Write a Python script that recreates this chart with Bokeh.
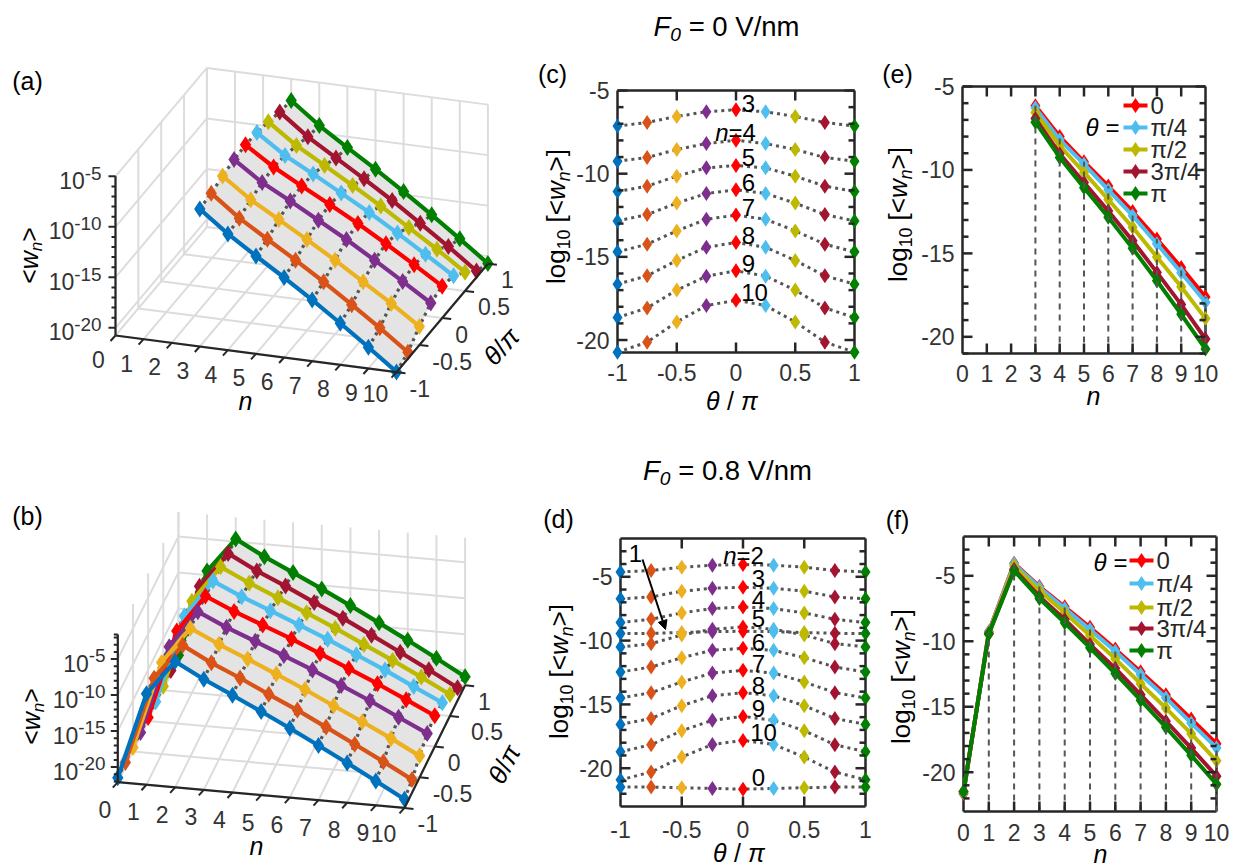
import math
from bokeh.plotting import figure
from bokeh.models import Range1d, Label, LinearAxis, FixedTicker, Arrow, NormalHead
from bokeh.embed import file_html
from bokeh.resources import INLINE

FONT = "Liberation Sans"
INK = "#262626"
DOT = "#555555"
GRID = "#dcdcdc"
SURF = "#e4e4e4"
BLACK = "#000000"
TICKC = "#333333"
W, H = 1237, 867

THETA = [-1, -0.75, -0.5, -0.25, 0, 0.25, 0.5, 0.75, 1]
COLORS = ["#0072BD", "#D95319", "#EDB120", "#7E2F8E", "#FF0000",
          "#4DBEEE", "#BDB800", "#A2142F", "#007F00"]

# log10<w_n> at F0 = 0 V/nm (rows n = 3..10)
F0_N = [3, 4, 5, 6, 7, 8, 9, 10]
F0_3 = [-7.14, -6.92, -6.56, -6.28, -6.16, -6.28, -6.56, -6.92, -7.14]
F0_4 = [-9.25, -9.03, -8.55, -8.19, -7.99, -8.19, -8.55, -9.03, -9.25]
F0_5 = [-11.07, -10.75, -10.15, -9.65, -9.51, -9.65, -10.15, -10.75, -11.07]
F0_6 = [-12.84, -12.46, -11.77, -11.19, -10.97, -11.19, -11.77, -12.46, -12.84]
F0_7 = [-14.70, -14.24, -13.44, -12.74, -12.49, -12.74, -13.44, -14.24, -14.70]
F0_8 = [-16.64, -16.14, -15.22, -14.42, -14.14, -14.42, -15.22, -16.14, -16.64]
F0_9 = [-18.65, -18.07, -17.00, -16.16, -15.84, -16.16, -17.00, -18.07, -18.65]
F0_10 = [-20.73, -20.13, -18.91, -17.93, -17.61, -17.93, -18.91, -20.13, -20.73]
F0_ROWS = [F0_3, F0_4, F0_5, F0_6, F0_7, F0_8, F0_9, F0_10]

# log10<w_n> at F0 = 0.8 V/nm (rows n = 0..10)
F8_N = [0, 1, 2, 3, 4, 5, 6, 7, 8, 9, 10]
F8_0 = [-21.48, -21.48, -21.53, -21.58, -21.64, -21.58, -21.53, -21.48, -21.48]
F8_1 = [-9.45, -9.43, -9.37, -9.30, -9.27, -9.30, -9.37, -9.43, -9.45]
F8_2 = [-4.62, -4.51, -4.25, -4.09, -4.04, -4.09, -4.25, -4.51, -4.62]
F8_3 = [-6.73, -6.58, -6.13, -5.90, -5.82, -5.90, -6.13, -6.58, -6.73]
F8_4 = [-8.59, -8.33, -7.83, -7.49, -7.36, -7.49, -7.83, -8.33, -8.59]
F8_5 = [-10.50, -10.24, -9.56, -9.11, -8.93, -9.11, -9.56, -10.24, -10.50]
F8_6 = [-12.46, -12.07, -11.34, -10.76, -10.60, -10.76, -11.34, -12.07, -12.46]
F8_7 = [-14.50, -14.08, -13.24, -12.54, -12.33, -12.54, -13.24, -14.08, -14.50]
F8_8 = [-16.57, -16.10, -15.10, -14.32, -14.08, -14.32, -15.10, -16.10, -16.57]
F8_9 = [-18.71, -18.16, -17.06, -16.25, -15.94, -16.25, -17.06, -18.16, -18.71]
F8_10 = [-20.91, -20.30, -19.13, -18.14, -17.82, -18.14, -19.13, -20.30, -20.91]
F8_ROWS = [F8_0, F8_1, F8_2, F8_3, F8_4, F8_5, F8_6, F8_7, F8_8, F8_9, F8_10]

LEG_IDX = [4, 5, 6, 7, 8]
LEG_LABELS = ["0", "π/4", "π/2", "3π/4", "π"]
NUM_TICKS = [-1, -0.5, 0, 0.5, 1]
NUM_TEXT = ["-1", "-0.5", "0", "0.5", "1"]
Z_TICKS = [-5, -10, -15, -20]
Z_TEXT = ["-5", "-10", "-15", "-20"]

EM = {"0": .556, "1": .556, "2": .556, "3": .556, "4": .556, "5": .556, "6": .556, "7": .556,
      "8": .556, "9": .556, "l": .222, "o": .556, "g": .556, "[": .278, "]": .278, "<": .584,
      ">": .584, "w": .722, "n": .556, " ": .278, "=": .584, "F": .611, "V": .667, "/": .278,
      "m": .833, ".": .278, "-": .333, "θ": .56, "π": .56, "(": .333, ")": .333, "a": .556,
      "b": .556, "c": .5, "d": .556, "e": .556, "f": .278}

p = figure(width=W, height=H, x_range=Range1d(0, W), y_range=Range1d(H, 0), toolbar_location=None,
           output_backend="svg", x_axis_type=None, y_axis_type=None, min_border=0)
p.outline_line_color = None
p.grid.visible = False


def rich(px, py, size, pieces, angle=0.0, align="left", color=INK):
    """Runs of text along one line; (px, py) is the mid height of the line, in page pixels."""
    total = sum(sum(EM.get(c, .55) for c in t) * size * r for t, r, _, _ in pieces)
    ux, uy = math.cos(angle), -math.sin(angle)
    vx, vy = -math.sin(angle), -math.cos(angle)
    back = {"left": 0, "center": total / 2, "right": total}[align]
    cx, cy = px - ux * back, py - uy * back
    for t, r, ital, shift in pieces:
        up = (shift + .36 * r - .36) * size
        lead = len(t) - len(t.lstrip(" "))
        adv0 = lead * EM[" "] * size * r
        cx += ux * adv0
        cy += uy * adv0
        body = t.strip(" ")
        p.add_layout(Label(x=cx + vx * up, y=cy + vy * up, text=body, text_font=FONT,
                           text_font_size=f"{size * r:.1f}px",
                           text_font_style="italic" if ital else "normal",
                           text_color=color, angle=angle, text_align="left",
                           text_baseline="middle"))
        adv = sum(EM.get(c, .55) for c in t.lstrip(" ")) * size * r
        cx += ux * adv
        cy += uy * adv


def plain(px, py, size, txt, color=INK, align="center"):
    rich(px, py, size, [(txt, 1, False, 0)], align=align, color=color)


def log_label(px, py):
    rich(px, py, 26,
         [("log", 1, False, 0), ("10", .68, False, -.2), (" [<", 1, False, 0), ("w", 1, True, 0),
          ("n", .68, True, -.2), (">]", 1, False, 0)],
         angle=math.pi / 2, align="center", color=BLACK)


def panel2d(name, frame, xr, yr, xticks, xtext, yminor, standoff):
    """A box in page pixels (l, t, r, b) with its own data ranges and four real axes."""
    kx = (xr[1] - xr[0]) / (frame[2] - frame[0])
    ky = (yr[1] - yr[0]) / (frame[3] - frame[1])
    xn, yn = name + "x", name + "y"
    p.extra_x_ranges[xn] = Range1d(xr[0] - frame[0] * kx, xr[0] + (W - frame[0]) * kx)
    p.extra_y_ranges[yn] = Range1d(yr[0] - (H - frame[3]) * ky, yr[0] + frame[3] * ky)
    r = dict(x_range_name=xn, y_range_name=yn)

    def style(ax, off):
        ax.axis_line_color = INK
        ax.axis_line_width = 2.5
        ax.major_tick_line_color = None
        ax.minor_tick_line_color = None
        ax.major_tick_in = 0
        ax.major_tick_out = 0
        ax.minor_tick_in = 0
        ax.minor_tick_out = 0
        ax.major_label_text_font = FONT
        ax.major_label_text_font_size = "23px"
        ax.major_label_text_color = TICKC
        ax.major_label_standoff = off
        ax.level = "underlay"
    for loc, labelled, at in (("below", True, yr[0]), ("above", False, yr[1])):
        ax = LinearAxis(ticker=FixedTicker(ticks=xticks), fixed_location=at, bounds=xr, **r)
        style(ax, standoff if labelled else 0)
        ax.major_label_overrides = {t: (s if labelled else "") for t, s in zip(xticks, xtext)}
        p.add_layout(ax, loc)
    for loc, labelled, at in (("left", True, xr[0]), ("right", False, xr[1])):
        ax = LinearAxis(ticker=FixedTicker(ticks=Z_TICKS, minor_ticks=yminor), fixed_location=at,
                        bounds=yr, **r)
        style(ax, 8 if labelled else 0)
        ax.major_label_overrides = {t: (s if labelled else "") for t, s in zip(Z_TICKS, Z_TEXT)}
        p.add_layout(ax, loc)
    # inward tick marks on all four sides of the box
    tick = dict(line_color=INK, line_width=2.5, level="overlay", **r)
    for t in xticks[1:-1]:
        p.line([t, t], [yr[0], yr[0] + 10 * ky], **tick)
        p.line([t, t], [yr[1], yr[1] - 10 * ky], **tick)
    for t, ln in [(v, 10) for v in Z_TICKS] + [(v, 6) for v in yminor]:
        p.line([xr[0], xr[0] + ln * kx], [t, t], **tick)
        p.line([xr[1], xr[1] - ln * kx], [t, t], **tick)
    return r


def theta_panel(r, rows):
    for v in rows:
        p.line(THETA, v, line_color=DOT, line_width=3, line_dash="3 4", **r)
    for v in rows:
        p.scatter(THETA, v, marker="diamond", size=15, fill_color=COLORS, line_color=None, **r)


def n_panel(r, ns, rows, dash_from, ybot):
    cols = list(zip(*rows))
    for i in LEG_IDX:
        p.line(ns, cols[i], line_color=COLORS[i], line_width=4, **r)
        p.scatter(ns, cols[i], marker="diamond", size=15, fill_color=COLORS[i], line_color=None, **r)
    for n, v in zip(ns, cols[4]):
        if n >= dash_from:
            p.segment(n, ybot, n, v, line_color=DOT, line_width=2, line_dash="6 5", **r)


def legend(x0, x1, rows_y):
    for i, s, y in zip(LEG_IDX, LEG_LABELS, rows_y):
        p.line([x0, x1], [y, y], line_color=COLORS[i], line_width=4)
        p.scatter([(x0 + x1) / 2], [y], marker="diamond", size=15, fill_color=COLORS[i], line_color=None)
        plain(x1 + 3, y, 24, s, color=INK, align="left")


def panel3d(O, an, bt, cz, zlo, zhi, ns, rows, surf_from, lbl):
    def P(n, th, z):
        return (O[0] + n * an[0] + (th + 1) * bt[0],
                O[1] + n * an[1] + (th + 1) * bt[1] + (z - zlo) * cz)

    def seg(a, b, **kw):
        p.line([a[0], b[0]], [a[1], b[1]], **kw)

    g = dict(line_color=GRID, line_width=2)
    all_n = list(range(0, 11))
    for n in all_n:
        seg(P(n, -1, zlo), P(n, 1, zlo), **g)
        seg(P(n, 1, zlo), P(n, 1, zhi), **g)
    for th in NUM_TICKS:
        seg(P(0, th, zlo), P(10, th, zlo), **g)
        seg(P(0, th, zlo), P(0, th, zhi), **g)
    for z in Z_TICKS:
        seg(P(0, -1, z), P(0, 1, z), **g)
        seg(P(0, 1, z), P(10, 1, z), **g)

    xs, ys = [], []
    for a in range(len(ns) - 1):
        if ns[a] < surf_from:
            continue
        for t in range(len(THETA) - 1):
            q = [P(ns[a], THETA[t], rows[a][t]), P(ns[a + 1], THETA[t], rows[a + 1][t]),
                 P(ns[a + 1], THETA[t + 1], rows[a + 1][t + 1]), P(ns[a], THETA[t + 1], rows[a][t + 1])]
            xs.append([c[0] for c in q])
            ys.append([c[1] for c in q])
    p.patches(xs, ys, fill_color=SURF, line_color=SURF, line_width=0.5)

    for a, n in enumerate(ns):
        pts = [P(n, th, rows[a][t]) for t, th in enumerate(THETA)]
        p.line([c[0] for c in pts], [c[1] for c in pts], line_color=DOT, line_width=3.2, line_dash="3 4")

    cols = list(zip(*rows))
    for t in range(len(THETA) - 1, -1, -1):
        pts = [P(n, THETA[t], cols[t][a]) for a, n in enumerate(ns)]
        xx, yy = [c[0] for c in pts], [c[1] for c in pts]
        p.line(xx, yy, line_color=COLORS[t], line_width=4.2)
        p.scatter(xx, yy, marker="diamond", size=17, fill_color=COLORS[t], line_color=None)

    ax = dict(line_color=INK, line_width=2.2)
    seg(P(0, -1, zlo), P(10, -1, zlo), **ax)
    seg(P(10, -1, zlo), P(10, 1, zlo), **ax)
    seg(P(0, -1, zlo), P(0, -1, zhi), **ax)
    tk = dict(line_color=INK, line_width=2)
    for n in all_n:
        b = P(n, -1, zlo)
        seg(b, (b[0] - 5, b[1] + 5.5), **tk)
        off = (lbl["ndx10"], lbl["ndy10"]) if n == 10 else (lbl["ndx"], lbl["ndy"])
        plain(b[0] + off[0], b[1] + off[1], 23, str(n), color=TICKC)
    for th, s in zip(NUM_TICKS, NUM_TEXT):
        b = P(10, th, zlo)
        seg(b, (b[0] + 9, b[1] + 1), **tk)
        extra = lbl["t05"] if s == "0.5" else 0
        plain(b[0] + 13 + extra, b[1] + 16, 23, s, color=TICKC, align="left")
    z = math.ceil(zlo)
    while z <= zhi:
        b = P(0, -1, z)
        seg(b, (b[0] - (7 if z % 5 == 0 else 4), b[1]), **tk)
        z += 1
    if zhi != math.floor(zhi):
        b = P(0, -1, zhi)
        seg(b, (b[0] - 4, b[1]), **tk)
    for z, t in zip(Z_TICKS, Z_TEXT):
        b = P(0, -1, z)
        wid = (EM["1"] * 2 + sum(EM[c] for c in t) * .82) * 23
        rich(lbl["zright"] - wid, b[1] + 4, 23, [("10", 1, False, 0), (t, .82, False, .38)], color=TICKC)


WN = [("<", 1, False, 0), ("w", 1, True, 0), ("n", .68, True, -.2), (">", 1, False, 0)]
TP = [("θ", 1, True, 0), ("/", 1, False, 0), ("π", 1, True, 0)]
TP2 = [("θ", 1, True, 0), (" /", 1, False, 0), (" π", 1, True, 0)]

# ---------- panel (a) ----------
panel3d((115, 335), (28.1, 3.67), (45.7, -54.2), -10.1, -20.76, -5, F0_N, F0_ROWS, 3,
        dict(ndx=-17, ndy=24, ndx10=-21, ndy10=21, t05=0, zright=101))
plain(27, 80, 25, "(a)", color=BLACK)
rich(28, 255, 25, WN, angle=math.pi / 2, align="center", color=BLACK)
rich(245, 400, 25, [("n", 1, True, 0)], align="center", color=BLACK)
rich(500, 347, 26, TP, angle=math.radians(48), align="center", color=BLACK)

# ---------- panel (b) ----------
panel3d((117.3, 781.7), (28.67, 2.57), (30.3, -61.3), -7.2, -22.1, -1.6, F8_N, F8_ROWS, 1,
        dict(ndx=-13, ndy=27, ndx10=-21, ndy10=26, t05=8, zright=105))
plain(27, 515, 25, "(b)", color=BLACK)
rich(30, 716, 25, WN, angle=math.pi / 2, align="center", color=BLACK)
rich(256, 845, 25, [("n", 1, True, 0)], align="center", color=BLACK)
rich(503, 765, 26, TP, angle=math.radians(62), align="center", color=BLACK)

# ---------- panel (c) ----------
rc = panel2d("c", (617, 90, 854, 352), (-1, 1), (-20.75, -5), NUM_TICKS, NUM_TEXT,
             [v for v in range(-20, -5) if v % 5], 11)
theta_panel(rc, F0_ROWS)
plain(552, 73, 25, "(c)", color=BLACK)
log_label(555, 216)
rich(730, 400, 25, TP2, align="center", color=BLACK)
rich(726, 26, 27.5, [("F", 1, True, 0), ("0", .7, True, -.2), (" = 0 V/nm", 1, False, 0)],
     align="center", color=BLACK)
for yy, s in zip([103, 157, 182, 207, 235, 263], ["3", "5", "6", "7", "8", "9"]):
    plain(748, yy, 24, s, color=BLACK)
plain(754, 292, 24, "10", color=BLACK)
rich(735, 132, 24, [("n", 1, True, 0), ("=4", 1, False, 0)], align="center", color=BLACK)

# ---------- panel (d) ----------
rd = panel2d("d", (620, 538, 865, 806), (-1, 1), (-23, -2), NUM_TICKS, NUM_TEXT,
             [v for v in range(-22, -2) if v % 5], 14)
theta_panel(rd, F8_ROWS)
plain(558, 518, 25, "(d)", color=BLACK)
log_label(558, 671)
rich(737, 852, 25, TP2, align="center", color=BLACK)
rich(727, 470, 27.5, [("F", 1, True, 0), ("0", .7, True, -.2), (" = 0.8 V/nm", 1, False, 0)],
     align="center", color=BLACK)
for yy, s in zip([578, 599, 618, 642, 663, 685, 708, 777], ["3", "4", "5", "6", "7", "8", "9", "0"]):
    plain(758, yy, 24, s, color=BLACK)
plain(763, 732, 24, "10", color=BLACK)
plain(635, 553, 24, "1", color=BLACK)
rich(743, 555, 24, [("n", 1, True, 0), ("=2", 1, False, 0)], align="center", color=BLACK)
p.add_layout(Arrow(end=NormalHead(size=9, fill_color=BLACK, line_color=BLACK),
                   x_start=642, y_start=559, x_end=665, y_end=629,
                   line_color=BLACK, line_width=2))

# ---------- panel (e) ----------
re_ = panel2d("e", (962, 86, 1205, 353), (0, 10), (-21, -5), F8_N, [str(v) for v in F8_N],
              [v for v in range(-21, -5) if v % 5], 11)
n_panel(re_, F0_N, F0_ROWS, 3, -21)
legend(1123, 1147, [105, 127, 149, 171, 193])
plain(897, 73, 25, "(e)", color=BLACK)
log_label(897, 214)
rich(1093, 395, 25, [("n", 1, True, 0)], align="center", color=BLACK)
rich(1085, 127, 24, [("θ", 1, True, 0), (" =", 1, False, 0)], color=BLACK)

# ---------- panel (f) ----------
rf = panel2d("f", (963, 536, 1216, 811), (0, 10), (-23, -2), F8_N, [str(v) for v in F8_N],
             [v for v in range(-22, -2) if v % 5], 12)
n_panel(rf, F8_N, F8_ROWS, 1, -23)
legend(1129, 1153, [560, 583, 607, 628, 650])
plain(897, 519, 25, "(f)", color=BLACK)
log_label(900, 676)
rich(1100, 853, 25, [("n", 1, True, 0)], align="center", color=BLACK)
rich(1093, 562, 24, [("θ", 1, True, 0), (" =", 1, False, 0)], color=BLACK)

open("out.html", "w").write(file_html(p, INLINE))
